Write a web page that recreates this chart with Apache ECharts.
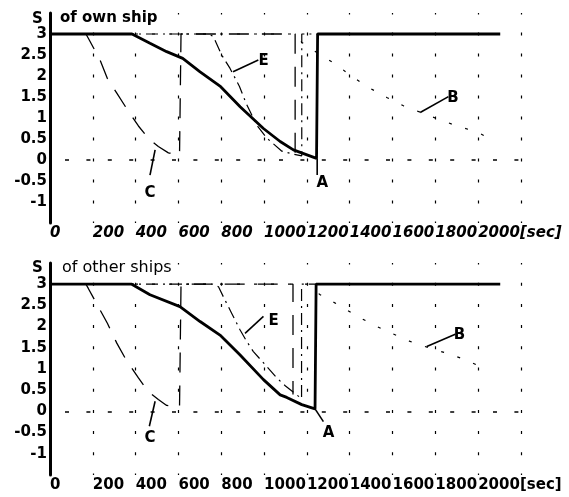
<!DOCTYPE html>
<html>
<head>
<meta charset="utf-8">
<script src="https://cdn.jsdelivr.net/npm/echarts@6/dist/echarts.min.js"></script>
<style>
  html, body { margin: 0; padding: 0; background: #fff; }
  #chart { width: 569px; height: 497px; }
</style>
</head>
<body>
<div id="chart"></div>
<script>
// tick labels of the time axis
const xTickLabels = ['0', '200', '400', '600', '800', '1000', '1200', '1400', '1600', '1800', '2000[sec]']

// upper panel: S of own ship
const ownA = [[0, 3], [383, 3], [467, 2.78], [545, 2.58], [620, 2.42], [701, 2.10], [794, 1.76], [888, 1.27], [997, 0.75], [1075, 0.44], [1137, 0.24], [1245, 0.04], [1250, 3], [2103, 3]]
const ownC = [[0, 3], [168, 3], [179, 2.9], [234, 2.38], [268, 1.94], [312, 1.59], [355, 1.25], [413, 0.81], [464, 0.49], [506, 0.32], [553, 0.17], [605, 0.12], [612, 3], [1145, 3], [1145, 0.17]]
const ownE = [[0, 3], [740, 3], [763, 2.94], [802, 2.5], [841, 2.18], [885, 1.75], [916, 1.35], [966, 0.83], [1013, 0.52], [1083, 0.21], [1137, 0.14], [1176, 0.1], [1176, 3], [1250, 3]]
const ownB = [[0, 3], [1150, 3], [1176, 2.8], [1258, 2.52], [1340, 2.26], [1402, 2.02], [1487, 1.73], [1573, 1.49], [1651, 1.29], [1815, 0.97], [1901, 0.81], [1994, 0.67], [2064, 0.48]]
const ownLeaders = [
  [[1248, 0.04], [1248, -0.36]],
  [[491, 0.24], [467, -0.36]],
  [[855, 2.10], [973, 2.38]],
  [[1729, 1.13], [1861, 1.51]]
]
const ownTags = [[1272, -0.55, 'A'], [467, -0.79, 'C'], [998, 2.36, 'E'], [1882, 1.48, 'B']]

// lower panel: S of other ships
const otherA = [[0, 3], [382, 3], [467, 2.75], [607, 2.47], [701, 2.12], [794, 1.80], [888, 1.33], [997, 0.75], [1075, 0.39], [1106, 0.33], [1176, 0.16], [1238, 0.06], [1243, 3], [2103, 3]]
const otherC = [[0, 3], [168, 3], [179, 2.9], [234, 2.39], [268, 2.08], [312, 1.61], [355, 1.22], [413, 0.79], [459, 0.47], [506, 0.28], [545, 0.14], [605, 0.1], [612, 3], [1135, 3], [1135, 0.4]]
const otherE = [[0, 3], [760, 3], [787, 2.94], [813, 2.67], [849, 2.31], [888, 1.92], [919, 1.65], [950, 1.41], [1005, 1.10], [1059, 0.79], [1100, 0.6], [1175, 0.3], [1175, 3], [1250, 3]]
const otherB = [[0, 3], [1200, 3], [1262, 2.75], [1355, 2.49], [1433, 2.25], [1519, 2.02], [1597, 1.84], [1682, 1.65], [1770, 1.5], [1854, 1.37], [1939, 1.22], [2017, 1.04]]
const otherLeaders = [
  [[1238, 0.06], [1277, -0.24]],
  [[491, 0.24], [464, -0.35]],
  [[911, 1.84], [997, 2.24]],
  [[1760, 1.53], [1893, 1.82]]
]
const otherTags = [[1301, -0.51, 'A'], [467, -0.63, 'C'], [1044, 2.12, 'E'], [1913, 1.80, 'B']]

const FONT = 'DejaVu Sans'
const chart = echarts.init(document.getElementById('chart'))

function xAxisFor(idx, italic, period) {
  return {
    type: 'value', gridIndex: idx, min: 0, max: 2200, interval: 200,
    axisLine: { show: false }, axisTick: { show: false },
    splitLine: { show: true, lineStyle: { color: '#000', width: 1.2, type: [3, period - 3], dashOffset: 1.5 } },
    axisLabel: {
      margin: 3, align: 'left', color: '#000', fontFamily: FONT, fontWeight: 'bold',
      fontStyle: italic ? 'italic' : 'normal', fontSize: 15,
      formatter: v => xTickLabels[Math.round(v / 200)] || ''
    }
  }
}

function yAxisFor(idx) {
  return {
    type: 'value', gridIndex: idx, min: -1.5, max: 3.5, interval: 0.5,
    axisLine: { show: true, onZero: false, lineStyle: { color: '#000', width: 3 } },
    axisTick: { show: false }, splitLine: { show: false },
    axisLabel: {
      margin: 3, color: '#000', fontFamily: FONT, fontWeight: 'bold', fontSize: 15,
      formatter: v => (v < -1 || v > 3) ? '' : String(v)
    }
  }
}

function panelSeries(idx, A, C, E, B, leaders, tags) {
  const base = { type: 'line', xAxisIndex: idx, yAxisIndex: idx, symbol: 'none', silent: true, z: 3 }
  const list = [
    Object.assign({}, base, { data: B, lineStyle: { color: '#000', width: 1.2, type: [3, 14] } }),
    Object.assign({}, base, { data: E, lineStyle: { color: '#000', width: 1.2, type: [12, 5, 2, 5] } }),
    Object.assign({}, base, { data: C, lineStyle: { color: '#000', width: 1.3, type: [20, 13] } }),
    Object.assign({}, base, {
      data: A, z: 4, lineStyle: { color: '#000', width: 2.8 },
      markLine: {
        silent: true, symbol: 'none', label: { show: false },
        lineStyle: { color: '#000', width: 1.5, type: [4, 17.4], dashOffset: 6.4 },
        data: [{ yAxis: 0 }]
      }
    })
  ]
  leaders.forEach(seg => {
    list.push(Object.assign({}, base, { data: seg, lineStyle: { color: '#000', width: 1.6 } }))
  })
  list.push({
    type: 'scatter', xAxisIndex: idx, yAxisIndex: idx, symbolSize: 0, silent: true,
    itemStyle: { opacity: 1 },
    data: tags,
    label: {
      show: true, position: 'inside', color: '#000', opacity: 1, fontFamily: FONT, fontWeight: 'bold', fontSize: 15,
      formatter: p => p.data[2]
    }
  })
  return list
}

chart.setOption({
  animation: false,
  backgroundColor: '#fff',
  grid: [
    { left: 50, top: 13, width: 471, height: 210 },
    { left: 50, top: 263, width: 471, height: 212 }
  ],
  xAxis: [xAxisFor(0, true, 21), xAxisFor(1, false, 21.2)],
  yAxis: [yAxisFor(0), yAxisFor(1)],
  graphic: [
    { type: 'text', left: 32, top: 12, style: { text: 'S', font: 'bold 15px "DejaVu Sans"', fill: '#000' } },
    { type: 'text', left: 60, top: 11, style: { text: 'of own ship', font: 'bold 15px "DejaVu Sans"', fill: '#000' } },
    { type: 'text', left: 32, top: 261, style: { text: 'S', font: 'bold 15px "DejaVu Sans"', fill: '#000' } },
    { type: 'text', left: 62, top: 260, style: { text: 'of other ships', font: '500 16px "DejaVu Sans"', fill: '#000' } }
  ],
  series: [].concat(
    panelSeries(0, ownA, ownC, ownE, ownB, ownLeaders, ownTags),
    panelSeries(1, otherA, otherC, otherE, otherB, otherLeaders, otherTags)
  )
})
</script>
</body>
</html>
